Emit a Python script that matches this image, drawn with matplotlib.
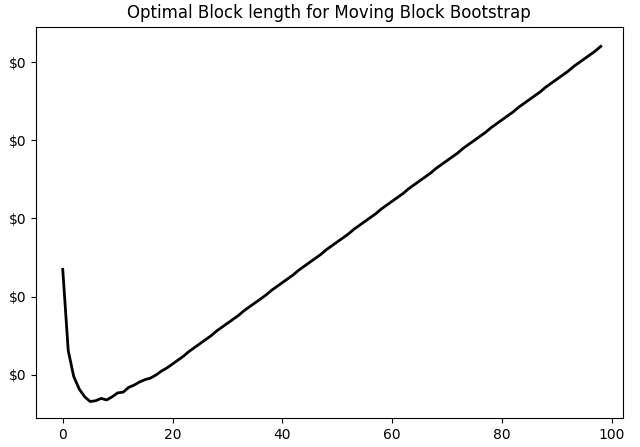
import matplotlib
matplotlib.use("Agg")
import matplotlib.pyplot as plt
from matplotlib.ticker import StrMethodFormatter

block_len = list(range(99))
mse = [0.235, 0.131, 0.098, 0.082, 0.072, 0.066, 0.067, 0.070, 0.068, 0.072,
       0.077, 0.078, 0.084, 0.087, 0.091, 0.094, 0.096, 0.100, 0.105, 0.109,
       0.114, 0.119, 0.124, 0.130, 0.135, 0.140, 0.145, 0.150, 0.156, 0.161,
       0.166, 0.171, 0.176, 0.182, 0.187, 0.192, 0.197, 0.202, 0.208, 0.213,
       0.218, 0.223, 0.228, 0.234, 0.239, 0.244, 0.249, 0.254, 0.260, 0.265,
       0.270, 0.275, 0.280, 0.286, 0.291, 0.296, 0.301, 0.306, 0.312, 0.317,
       0.322, 0.327, 0.332, 0.338, 0.343, 0.348, 0.353, 0.358, 0.364, 0.369,
       0.374, 0.379, 0.384, 0.390, 0.395, 0.400, 0.405, 0.410, 0.416, 0.421,
       0.426, 0.431, 0.436, 0.442, 0.447, 0.452, 0.457, 0.462, 0.468, 0.473,
       0.478, 0.483, 0.488, 0.494, 0.499, 0.504, 0.509, 0.514, 0.520]

fig, ax = plt.subplots(figsize=(6.4, 4.47), dpi=100)
fig.subplots_adjust(left=0.056, right=0.973, top=0.94, bottom=0.065)
ax.plot(block_len, mse, color="black", lw=2)
ax.set_title("Optimal Block length for Moving Block Bootstrap")
ax.set_yticks([0.1, 0.2, 0.3, 0.4, 0.5])
ax.yaxis.set_major_formatter(StrMethodFormatter("${x:,.0f}"))
ax.set_xlim(-4.9, 102)
ax.set_ylim(0.045, 0.545)
fig.savefig("out.png")
